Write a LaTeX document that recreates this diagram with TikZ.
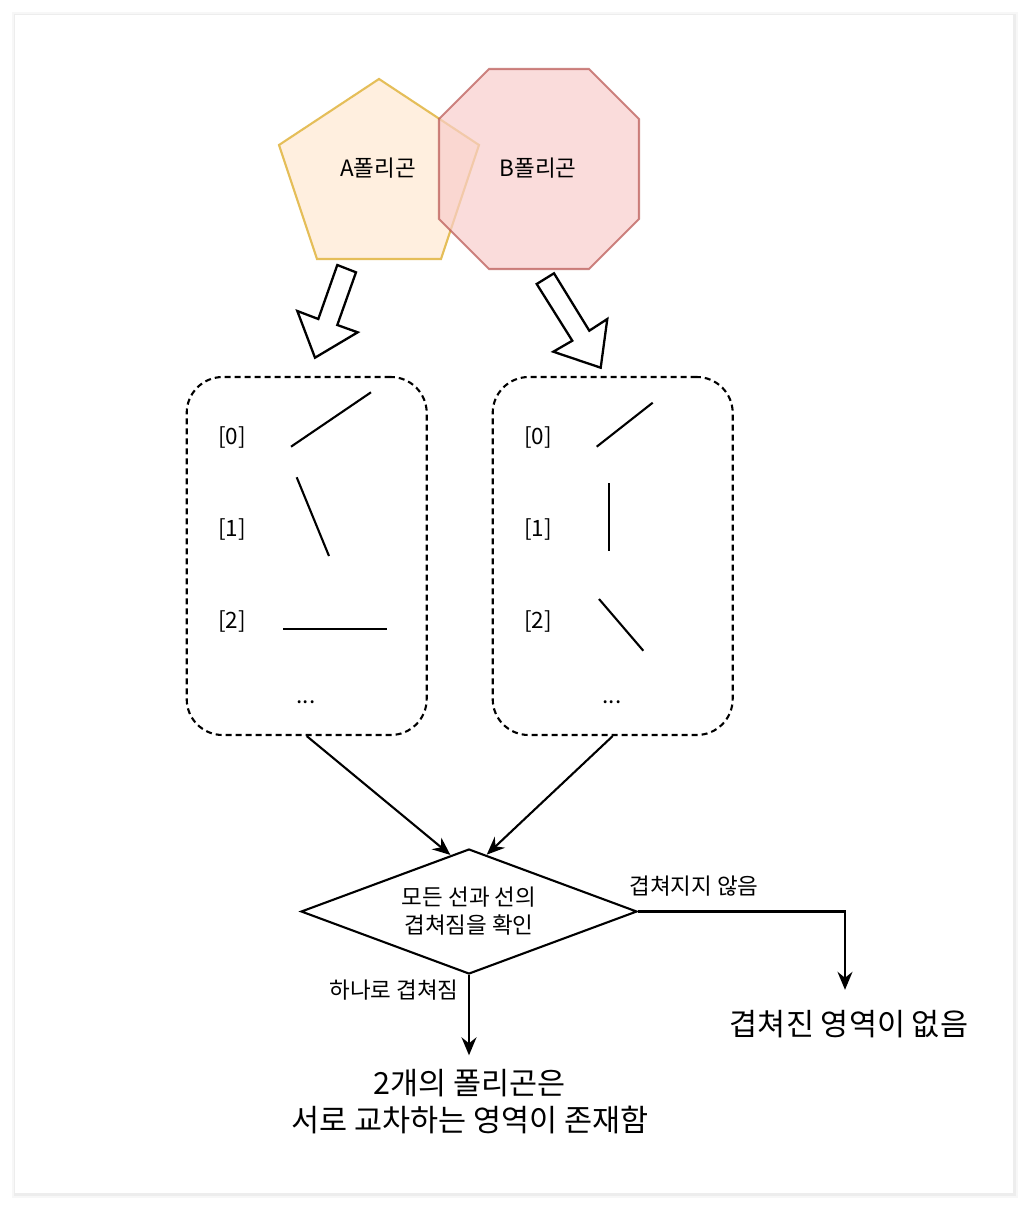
\documentclass[tikz,border=0pt]{standalone}
\usepackage{fontspec}
\setmainfont{Noto Sans CJK KR}
\usetikzlibrary{shapes.geometric,arrows.meta,calc}
\definecolor{afill}{HTML}{FFEFDF}
\definecolor{adraw}{HTML}{E5BE59}
\definecolor{bfill}{HTML}{F8CECC}
\definecolor{bdraw}{HTML}{B85450}
\tikzset{
 small/.style={font=\fontsize{22.5}{28}\selectfont, inner sep=0pt, align=center},
 big/.style={font=\fontsize{30.5}{37}\selectfont, inner sep=0pt, align=center},
 listbox/.style={draw, dash pattern=on 6pt off 4pt, rounded corners=36pt, minimum width=240pt, minimum height=358pt, line width=2.1pt},
 seg/.style={line width=2.1pt},
 conn/.style={line width=2.1pt, -{Stealth[length=18pt,width=15pt,inset=6pt]}},
 blockarrow/.style={draw, line width=2.3pt, fill=white, line join=miter},
}
\begin{document}
\begin{tikzpicture}[x=1pt,y=-1pt]
\useasboundingbox (0,0) rectangle (1028,1208);
% card
\fill[black!3] (12,12) rectangle (1018,1198);
\fill[black!7] (14,14) rectangle (1016,1196);
\fill[white] (15,15) rectangle (1013,1193);

% polygons
\path[fill=afill, draw=adraw, line width=2.1pt] (379,79) -- (479,145) -- (441,259) -- (317,259) -- (279,145) -- cycle;
\path[fill=bfill, draw=bdraw, line width=2.1pt, fill opacity=0.7, draw opacity=0.7]
  (489,69) -- (589,69) -- (639,119) -- (639,219) -- (589,269) -- (489,269) -- (439,219) -- (439,119) -- cycle;
\node[small] (la) at (378,168) {A폴리곤};
\node[small] (lb) at (538,168) {B폴리곤};

% block arrows
\path[blockarrow] (337.3,265) -- (356,272.3) -- (337.3,325) -- (357.7,332.3) -- (315,357.7) -- (297.3,311) -- (318.3,319) -- cycle;
\path[blockarrow] (536.7,284) -- (554,273.3) -- (589.3,330.7) -- (607.3,319) -- (600.7,367.7) -- (553.3,351.7) -- (572.3,340.7) -- cycle;

% list boxes
\node[listbox] (boxa) at (306.7,556) {};
\node[listbox] (boxb) at (612.7,556) {};

\node[small] (a0) at (232,437) {[0]};
\node[small] (a1) at (232,529) {[1]};
\node[small] (a2) at (232,621) {[2]};
\node[small] (ad) at (306,702) {...};
\node[small] (b0) at (538,437) {[0]};
\node[small] (b1) at (538,529) {[1]};
\node[small] (b2) at (538,621) {[2]};
\node[small] (bd) at (612,702) {...};

\draw[seg] (291,446.7) -- (371,392.3);
\draw[seg] (296.7,477.3) -- (329,556);
\draw[seg] (283.3,628.7) -- (387,628.7);
\draw[seg] (596.7,446.7) -- (652.7,402.7);
\draw[seg] (609,483.3) -- (609,550.7);
\draw[seg] (599,599) -- (643.3,650.7);

% decision
\node[draw, diamond, aspect=2.69, minimum width=336pt, minimum height=125pt, line width=2.1pt, inner sep=0pt, align=center, font=\fontsize{22.5}{28}\selectfont] (chk) at (469,911.5) {모든 선과 선의\\겹쳐짐을 확인};

\draw[conn] (boxa.south) -- ($(chk.north)!0.11!(chk.west)$);
\draw[conn] (boxb.south) -- ($(chk.north)!0.105!(chk.east)$);

% results
\node[big, minimum height=68pt] (no) at (849,1024) {겹쳐진 영역이 없음};
\node[big, minimum height=92pt] (yes) at (470,1101.5) {2개의 폴리곤은\\서로 교차하는 영역이 존재함};

\draw[conn] (chk.east) -- (845,911.5) -- ([xshift=-4pt]no.north);
\draw[conn] (chk.south) -- ([xshift=-1pt]yes.north);

\node[small] (lno) at (694,886) {겹쳐지지 않음};
\node[small] (lyes) at (394,990) {하나로 겹쳐짐};
\end{tikzpicture}
\end{document}
